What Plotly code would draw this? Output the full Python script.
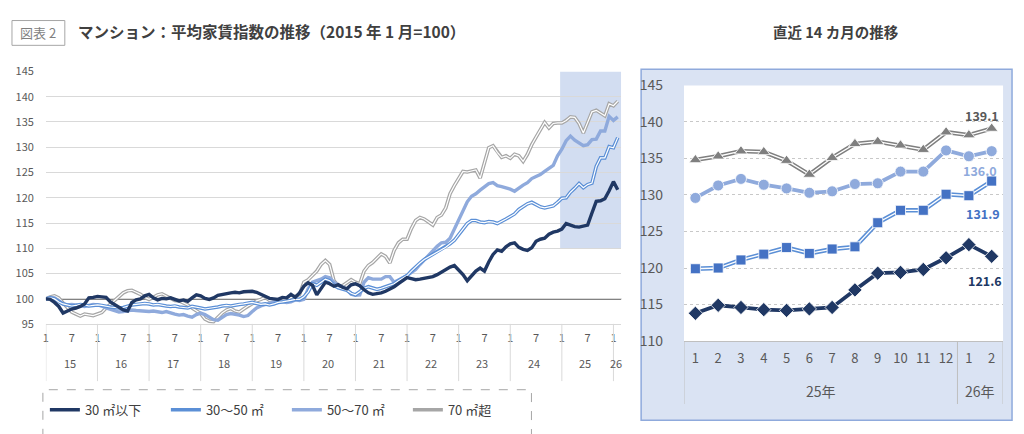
import plotly.graph_objects as go

FONT = "Noto Sans CJK JP"
W, H = 1024, 434

# ---------------- data (monthly index, 2015/1 = 100) ----------------
series_names = ["30 ㎡以下", "30～50 ㎡", "50～70 ㎡", "70 ㎡超"]

under30 = [
    100.0, 99.9, 99.3, 98.5, 97.2, 97.6, 98.0, 98.2, 98.5, 99.0, 100.2, 100.3,   # 2015
    100.5, 100.4, 100.3, 99.4, 98.8, 98.3, 97.8, 97.6, 99.3, 99.8, 100.0, 100.6,  # 2016
    100.9, 100.2, 99.8, 100.1, 100.0, 100.2, 99.9, 99.6, 99.8, 99.5, 100.2, 100.8, # 2017
    100.6, 100.1, 99.9, 100.2, 100.7, 100.9, 101.1, 101.2, 101.3, 101.2, 101.4, 101.5,  # 2018
    101.5, 101.3, 100.9, 100.6, 100.1, 100.0, 99.9, 100.3, 100.2, 100.9, 100.3, 101.2,  # 2019
    102.5, 103.2, 102.7, 100.8, 102.0, 103.3, 103.0, 102.5, 102.8, 102.3, 102.0, 102.8,  # 2020
    103.0, 102.6, 101.8, 101.2, 100.9, 101.0, 101.2, 101.5, 101.9, 102.4, 103.0, 103.6,  # 2021
    104.2, 104.0, 103.8, 103.9, 104.1, 104.3, 104.4, 104.8, 105.3, 105.9, 106.3, 106.6,  # 2022
    105.8, 104.8, 103.6, 104.6, 105.5, 106.1, 105.5, 107.3, 108.8, 109.7, 109.4, 110.3,  # 2023
    110.9, 111.1, 110.2, 109.8, 109.6, 110.1, 111.4, 111.8, 112.0, 112.8, 113.2, 113.4,  # 2024
    113.8, 114.9, 114.6, 114.3, 114.2, 114.4, 114.6, 117.0, 119.3, 119.4, 119.8, 121.4,  # 2025
    123.2, 121.6,                                                                        # 2026
]
s30_50 = [
    100.0, 100.2, 100.0, 99.4, 99.0, 98.8, 98.6, 98.7, 98.9, 98.8, 98.6, 98.7,
    98.8, 98.7, 98.5, 98.4, 98.3, 98.2, 98.3, 98.6, 98.8, 98.9, 99.0, 99.1,
    99.0, 98.8, 98.9, 98.7, 98.6, 98.5, 98.6, 98.4, 98.3, 98.2, 98.5, 98.4,
    98.2, 98.0, 98.1, 98.3, 98.4, 98.6, 98.7, 98.6, 98.8, 98.9, 99.0, 99.2,
    99.3, 99.1, 98.9, 99.0, 98.8, 99.0, 99.3, 99.4, 99.5, 99.7, 99.9, 99.9,
    100.4, 101.4, 103.0, 102.7, 103.3, 103.9, 103.6, 102.7, 102.2, 101.9, 101.7, 101.1,
    100.8, 101.4, 102.1, 102.4, 102.2, 101.9, 102.1, 102.4, 102.6, 103.0, 103.6, 104.1,
    104.6, 105.5, 106.4, 107.1, 107.8, 108.3, 108.8, 109.3, 109.7, 110.2, 110.9, 111.6,
    112.7, 113.9, 114.9, 115.5, 115.5, 115.2, 115.1, 115.3, 115.2, 114.9, 115.3, 115.8,
    116.3, 116.8, 117.7, 118.3, 118.8, 119.1, 118.6, 118.2, 118.0, 118.2, 118.4, 119.1,
    119.9, 120.0, 121.1, 121.9, 122.8, 122.0, 122.6, 122.9, 126.2, 127.9, 127.9, 130.1,
    129.9, 131.9,
]
s50_70 = [
    100.0, 100.3, 100.2, 99.6, 99.0, 98.8, 98.9, 98.8, 98.6, 98.5, 98.7, 98.9,
    98.8, 98.6, 98.2, 97.9, 97.6, 97.4, 97.5, 97.6, 97.8, 97.7, 97.6, 97.5,
    97.5, 97.6, 97.4, 97.3, 97.5, 97.2, 97.0, 96.8, 96.9, 96.6, 96.4, 96.9,
    97.2, 96.9, 96.3, 95.9, 95.8, 96.3, 96.9, 97.1, 97.0, 96.8, 96.5, 96.7,
    97.5, 98.2, 98.6, 98.9, 99.2, 99.4, 99.6, 99.5, 99.3, 99.4, 99.8, 99.7,
    99.9, 102.0, 103.3, 103.6, 103.9, 104.4, 104.2, 103.3, 102.7, 102.4, 101.9, 100.9,
    100.7, 100.8, 103.3, 104.2, 103.9, 103.9, 103.9, 104.4, 104.4, 103.3, 103.8, 104.2,
    104.6, 105.2, 105.8, 106.8, 107.7, 108.6, 109.6, 110.4, 111.1, 111.2, 112.0, 113.9,
    115.8, 117.5, 119.2, 120.3, 120.8, 121.5, 122.2, 122.8, 123.0, 122.4, 122.2, 122.0,
    121.7, 121.3, 122.0, 122.5, 123.0, 123.8, 124.2, 124.6, 125.2, 125.8, 126.4, 128.3,
    129.6, 131.3, 132.2, 131.4, 130.9, 130.3, 130.5, 131.5, 131.6, 133.2, 133.2, 136.1,
    135.3, 136.0,
]
over70 = [
    100.0, 100.4, 100.6, 100.2, 99.2, 98.2, 97.4, 97.0, 96.6, 97.0, 96.9, 96.7,
    97.0, 97.3, 98.2, 99.0, 99.7, 100.5, 101.2, 101.6, 101.7, 101.3, 100.9, 100.3,
    99.9, 100.3, 100.8, 101.0, 100.6, 100.2, 99.7, 99.6, 99.2, 98.8, 98.2, 97.6,
    97.1, 96.0, 95.6, 95.5, 96.4, 97.2, 97.8, 98.1, 97.6, 97.4, 98.0, 98.6,
    99.0, 99.6, 99.9, 100.3, 99.7, 99.5, 99.4, 99.7, 99.9, 100.3, 100.5, 100.9,
    103.3, 103.8, 104.6, 105.5, 106.8, 107.6, 106.8, 103.6, 102.6, 102.6, 103.2, 103.8,
    103.3, 103.0, 105.5, 106.6, 107.2, 108.0, 108.9, 108.4, 107.1, 109.6, 111.1, 111.8,
    111.8, 113.9, 115.5, 116.1, 115.8, 115.2, 114.6, 116.1, 116.6, 118.0, 120.8, 122.4,
    123.9, 125.2, 125.1, 125.3, 125.5, 123.9, 127.1, 129.9, 130.3, 129.0, 128.0, 128.3,
    127.8, 128.6, 128.3, 127.2, 128.6, 130.5, 132.0, 133.6, 134.9, 133.8, 134.7, 134.8,
    134.8, 135.3, 136.0, 135.9, 134.7, 132.8, 135.1, 137.0, 137.3, 136.8, 136.2, 138.6,
    138.2, 139.1,
]

year_labels = ["15", "16", "17", "18", "19", "20", "21", "22", "23", "24", "25", "26"]
month_tick_labels = ["1", "7"]
recent_month_labels = ["1", "2", "3", "4", "5", "6", "7", "8", "9", "10", "11", "12", "1", "2"]
recent_year_labels = ["25年", "26年"]
base_level = 100

# ---------------- helpers ----------------
def py(pix):
    """pixel row -> paper y"""
    return (H - pix) / H

def px_(pix):
    return pix / W

n = len(under30)
idx = list(range(n))
rn = len(recent_month_labels)
ridx = list(range(rn))

GRAY_TXT = "#595959"
fig = go.Figure()

# ---------------- left chart ----------------
left_styles = [
    (series_names[3], over70, "#a6a6a6", True, 4),
    (series_names[2], s50_70, "#8faadc", False, 3),
    (series_names[1], s30_50, "#5b8fd6", True, 2),
    (series_names[0], under30, "#203864", False, 1),
]
for name, data, color, double, rank in left_styles:
    fig.add_trace(go.Scatter(
        x=idx, y=data, mode="lines", name=name, legendrank=rank,
        line=dict(color=color, width=3.6 if double else 3.4),
        xaxis="x", yaxis="y", hoverinfo="skip"))
    if double:
        fig.add_trace(go.Scatter(
            x=idx, y=data, mode="lines", showlegend=False,
            line=dict(color="white", width=1.2),
            xaxis="x", yaxis="y", hoverinfo="skip"))

# ---------------- right chart (last 14 months) ----------------
right_styles = [
    (over70, "#7f7f7f", "#7f7f7f", True, "triangle-up", 11),
    (s50_70, "#8faadc", "#8faadc", False, "circle", 11),
    (s30_50, "#5b8fd6", "#4472c4", True, "square", 10),
    (under30, "#203864", "#203864", False, "diamond", 11),
]
for data, lcolor, mcolor, double, sym, size in right_styles:
    r = data[-rn:]
    fig.add_trace(go.Scatter(
        x=ridx, y=r, mode="lines", showlegend=False,
        line=dict(color=lcolor, width=4.4 if double else 3.8),
        xaxis="x2", yaxis="y2", hoverinfo="skip"))
    if double:
        fig.add_trace(go.Scatter(
            x=ridx, y=r, mode="lines", showlegend=False,
            line=dict(color="white", width=1.3),
            xaxis="x2", yaxis="y2", hoverinfo="skip"))
    fig.add_trace(go.Scatter(
        x=ridx, y=r, mode="markers", showlegend=False,
        marker=dict(symbol=sym, size=size, color=mcolor,
                    line=dict(color="white", width=0.8)),
        xaxis="x2", yaxis="y2", hoverinfo="skip"))

# ---------------- shapes ----------------
shapes = []
shapes.append(dict(type="rect", xref="paper", yref="paper",
                   x0=px_(640), x1=px_(1012), y0=py(429), y1=py(61),
                   fillcolor="#dae3f3", line=dict(color="#8faadc", width=1.5),
                   layer="below"))
shapes.append(dict(type="rect", xref="x2 domain", yref="y2 domain",
                   x0=0, x1=1, y0=0, y1=1, fillcolor="white",
                   line=dict(width=0), layer="below"))
shapes.append(dict(type="rect", xref="x", yref="y",
                   x0=n - rn - 0.4, x1=n - 0.2, y0=110, y1=145,
                   fillcolor="#d2ddf1", line=dict(width=0), layer="below"))
shapes.append(dict(type="line", xref="paper", yref="y",
                   x0=px_(43), x1=px_(620), y0=base_level, y1=base_level,
                   line=dict(color="#595959", width=1.5), layer="below"))
for k in range(len(year_labels)):
    shapes.append(dict(type="line", xref="x", yref="paper",
                       x0=12 * k, x1=12 * k, y0=py(388), y1=py(328),
                       line=dict(color="#d9d9d9", width=1)))
for xv in (-0.5, 11.5, rn - 0.5):
    shapes.append(dict(type="line", xref="x2", yref="paper",
                       x0=xv, x1=xv, y0=py(412), y1=py(346),
                       line=dict(color="#bfbfbf", width=1)))
shapes.append(dict(type="rect", xref="paper", yref="paper",
                   x0=px_(40), x1=px_(530), y0=py(445), y1=py(397),
                   line=dict(color="#a6a6a6", width=1, dash="dash")))
shapes.append(dict(type="rect", xref="paper", yref="paper",
                   x0=px_(9), x1=px_(62), y0=py(36), y1=py(10),
                   line=dict(color="#a6a6a6", width=1)))

# ---------------- annotations ----------------
ann = []
ann.append(dict(text="図表 2", xref="paper", yref="paper", x=px_(35.5), y=py(23),
                xanchor="center", yanchor="middle",
                showarrow=False, font=dict(family=FONT, size=13, color="#7f7f7f")))
ann.append(dict(text="<b>マンション：平均家賃指数の推移（2015 年 1 月=100）</b>",
                xref="paper", yref="paper", x=px_(73), y=py(21), xanchor="left",
                yanchor="middle",
                showarrow=False, font=dict(family=FONT, size=15.5, color="#404040")))
ann.append(dict(text="<b>直近 14 カ月の推移</b>", xref="paper", yref="paper",
                x=px_(835), y=py(22), xanchor="center", yanchor="middle",
                showarrow=False, font=dict(family=FONT, size=14.5, color="#404040")))
for k, lab in enumerate(year_labels):
    xc = 12 * k + 5.5 if k < len(year_labels) - 1 else 12 * k + 0.6
    ann.append(dict(text=lab, xref="x", yref="paper", x=xc, y=py(369),
                    yanchor="middle",
                    showarrow=False, font=dict(family=FONT, size=11, color=GRAY_TXT)))
for xc, lab in zip((5.5, 12.5), recent_year_labels):
    ann.append(dict(text=lab, xref="x2", yref="paper", x=xc, y=py(398),
                    yanchor="middle",
                    showarrow=False, font=dict(family=FONT, size=14, color=GRAY_TXT)))
label_specs = [
    (over70, "#595959", 13, -10),
    (s50_70, "#8faadc", -19, -12),
    (s30_50, "#4472c4", -32, -9),
    (under30, "#203864", -24, -7),
]
for data, col, ys, xs in label_specs:
    ann.append(dict(text=f"<b>{data[-1]:.1f}</b>", xref="x2", yref="y2",
                    x=rn - 1, y=data[-1], xshift=xs, yshift=ys, showarrow=False,
                    font=dict(family=FONT, size=12.5, color=col)))

# ---------------- layout ----------------
left_ticks = []
left_tick_text = []
for k in range(len(year_labels)):
    for j, m in enumerate(month_tick_labels):
        pos = 12 * k + 6 * j
        if pos < n:
            left_ticks.append(pos)
            left_tick_text.append(m)

fig.update_layout(
    width=W, height=H,
    margin=dict(l=0, r=0, t=0, b=0),
    paper_bgcolor="white", plot_bgcolor="white",
    font=dict(family=FONT, color=GRAY_TXT),
    shapes=shapes, annotations=ann,
    showlegend=True,
    legend=dict(orientation="h", x=px_(42), y=py(418), xanchor="left", yanchor="middle",
                font=dict(family=FONT, size=13, color="#404040"),
                bgcolor="rgba(0,0,0,0)", itemwidth=30,
                entrywidth=76, entrywidthmode="pixels", traceorder="normal"),
    xaxis=dict(domain=[px_(43), px_(620)], range=[0, n - 0.2], anchor="y",
               tickvals=left_ticks, ticktext=left_tick_text, tickangle=0,
               tickfont=dict(family=FONT, size=11, color=GRAY_TXT),
               showgrid=False, zeroline=False, showline=True,
               linecolor="#d9d9d9", ticks="", ticklabelstandoff=4),
    yaxis=dict(domain=[py(328.3), py(63.3)], range=[95, 145], dtick=5, anchor="x",
               tickfont=dict(family=FONT, size=11, color=GRAY_TXT),
               gridcolor="#d9d9d9", zeroline=False, showline=False,
               ticklabelstandoff=11),
    xaxis2=dict(domain=[px_(683), px_(1003)], range=[-0.5, rn - 0.5], anchor="y2",
                tickvals=ridx, ticktext=recent_month_labels, tickangle=0,
                tickfont=dict(family=FONT, size=13, color=GRAY_TXT),
                showgrid=False, zeroline=False, showline=True,
                linecolor="#bfbfbf", ticks="", ticklabelstandoff=5),
    yaxis2=dict(domain=[py(346), py(78)], range=[110, 145], dtick=5, anchor="x2",
                tickfont=dict(family=FONT, size=14, color=GRAY_TXT),
                gridcolor="#c8c8c8", griddash="dot", zeroline=False, showline=False,
                ticklabelstandoff=20),
)

fig.write_html(
    "out.html",
    config={"displayModeBar": False},
    post_script="document.body.style.margin='0';document.body.style.overflow='hidden';",
)
